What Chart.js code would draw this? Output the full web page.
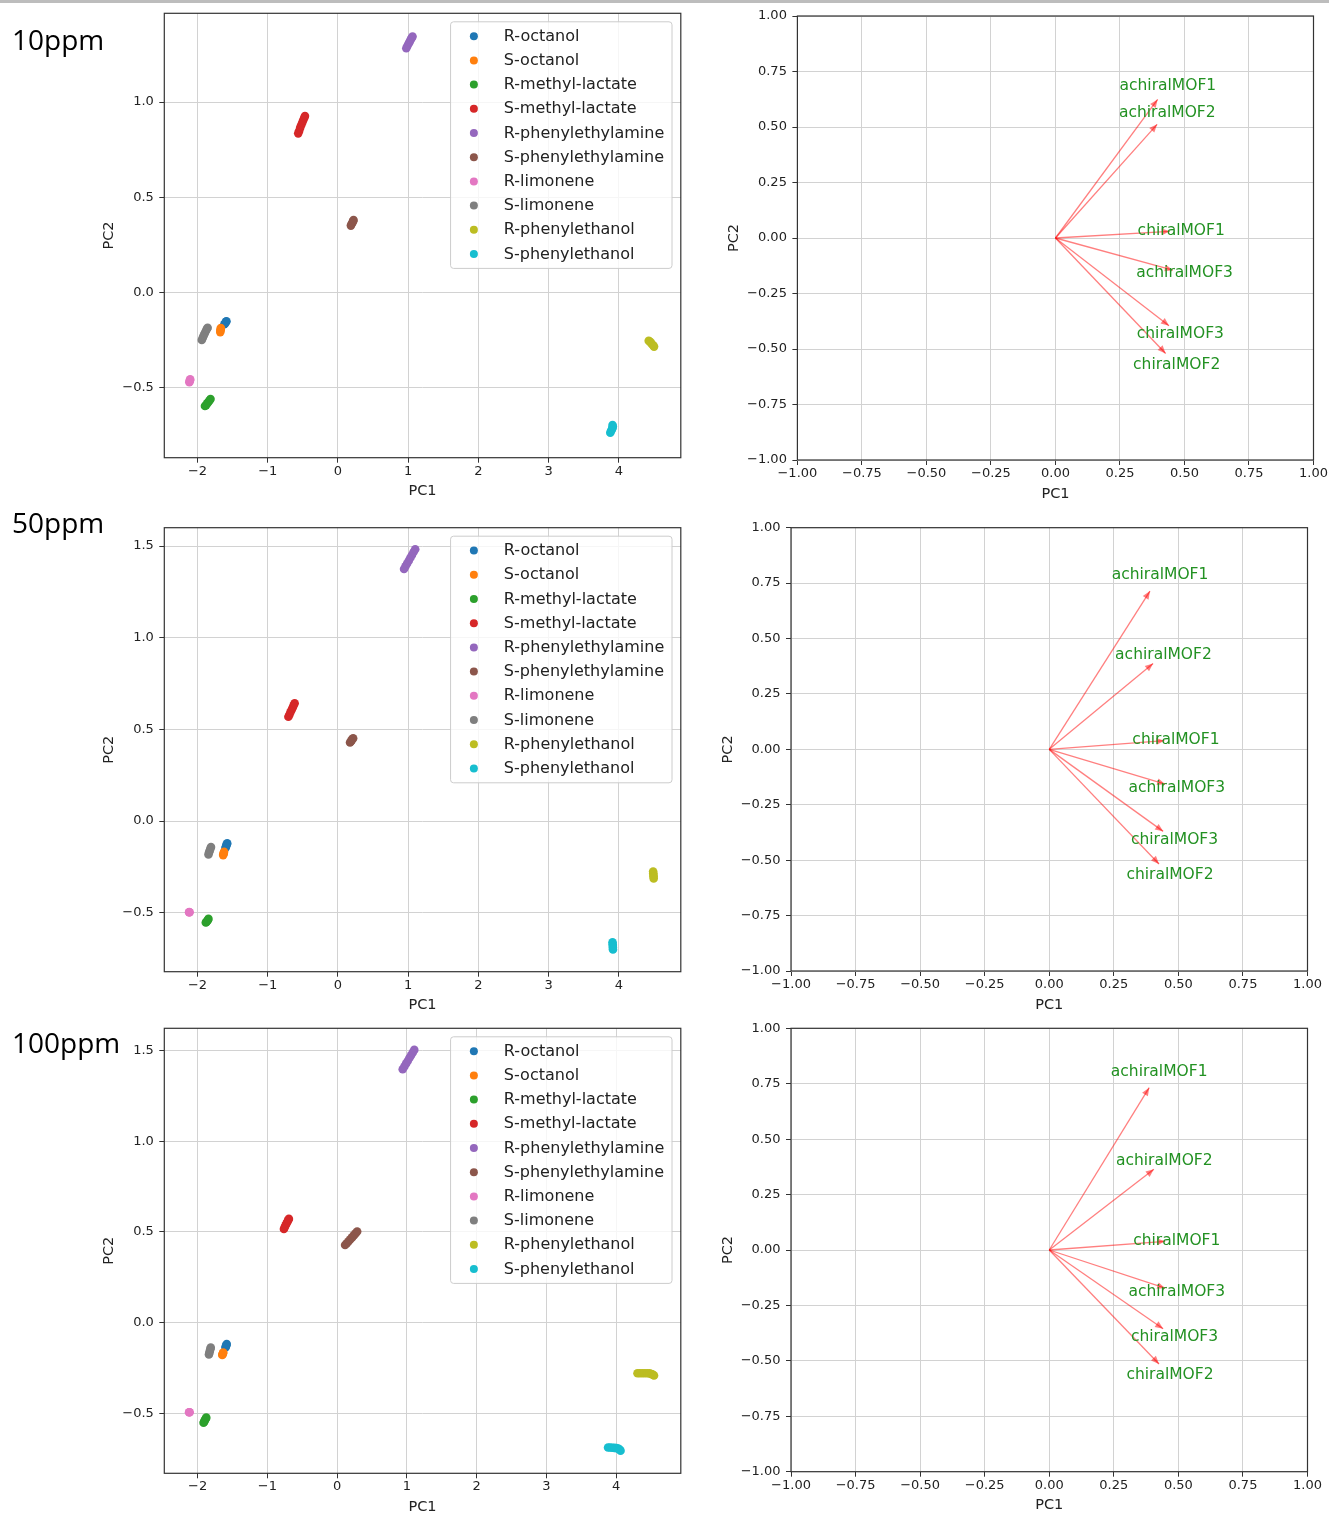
<!DOCTYPE html>
<html>
<head>
<meta charset="utf-8">
<script src="https://cdn.jsdelivr.net/npm/chart.js@4.4.0/dist/chart.umd.min.js"></script>
<style>
  html, body { margin:0; padding:0; background:#fff; }
  body { width:1329px; height:1515px; position:relative; overflow:hidden; }
  .topbar { position:absolute; left:0; top:0; width:1329px; height:3px; background:#bdbdbd; }
  .ppm { position:absolute; left:12px; font-family:"Open Sans", sans-serif; font-size:28px; line-height:28px; color:#000; white-space:nowrap; }
  canvas { position:absolute; }
</style>
</head>
<body>
<div class="topbar"></div>
<script>
// ---------------- DATA ----------------
const substances = ['R-octanol','S-octanol','R-methyl-lactate','S-methyl-lactate','R-phenylethylamine',
  'S-phenylethylamine','R-limonene','S-limonene','R-phenylethanol','S-phenylethanol'];
const concentrations = ['10ppm','50ppm','100ppm'];

// PCA scores (PC1, PC2) for every substance, 10 ppm
const scores10ppm = [
  [[-1.618,-0.166],[-1.606,-0.160],[-1.595,-0.153],[-1.588,-0.150]],
  [[-1.676,-0.207],[-1.673,-0.199],[-1.670,-0.192],[-1.668,-0.186]],
  [[-1.894,-0.595],[-1.878,-0.590],[-1.862,-0.581],[-1.846,-0.574],[-1.830,-0.566],[-1.815,-0.558]],
  [[-0.566,0.836],[-0.552,0.850],[-0.538,0.866],[-0.523,0.880],[-0.508,0.893],[-0.494,0.906],[-0.480,0.918],[-0.470,0.927]],
  [[0.973,1.283],[0.988,1.294],[1.005,1.306],[1.020,1.316],[1.036,1.328],[1.050,1.337],[1.062,1.344]],
  [[0.184,0.352],[0.195,0.360],[0.206,0.368],[0.215,0.375],[0.222,0.381]],
  [[-2.116,-0.470],[-2.112,-0.465],[-2.108,-0.459],[-2.104,-0.455]],
  [[-1.939,-0.248],[-1.925,-0.236],[-1.910,-0.224],[-1.895,-0.212],[-1.880,-0.200],[-1.866,-0.190],[-1.856,-0.184]],
  [[4.425,-0.252],[4.440,-0.256],[4.455,-0.262],[4.470,-0.269],[4.487,-0.276],[4.501,-0.283]],
  [[3.878,-0.735],[3.888,-0.726],[3.900,-0.718],[3.910,-0.710],[3.914,-0.702],[3.910,-0.695]]
];
// 50 ppm
const scores50ppm = [
  [[-1.602,-0.147],[-1.596,-0.140],[-1.589,-0.133],[-1.583,-0.127],[-1.577,-0.121]],
  [[-1.635,-0.186],[-1.630,-0.180],[-1.626,-0.174],[-1.622,-0.168]],
  [[-1.882,-0.554],[-1.872,-0.550],[-1.862,-0.545],[-1.852,-0.540],[-1.844,-0.534]],
  [[-0.706,0.569],[-0.692,0.580],[-0.677,0.593],[-0.661,0.606],[-0.646,0.618],[-0.631,0.631],[-0.617,0.642]],
  [[0.941,1.375],[0.962,1.390],[0.985,1.405],[1.008,1.420],[1.031,1.436],[1.054,1.451],[1.077,1.467],[1.100,1.482]],
  [[0.172,0.428],[0.183,0.434],[0.194,0.440],[0.205,0.446],[0.216,0.451]],
  [[-2.121,-0.498],[-2.117,-0.497],[-2.113,-0.498]],
  [[-1.844,-0.183],[-1.836,-0.172],[-1.827,-0.162],[-1.817,-0.151],[-1.808,-0.142]],
  [[4.488,-0.276],[4.490,-0.285],[4.492,-0.294],[4.494,-0.303],[4.496,-0.313]],
  [[3.910,-0.662],[3.912,-0.672],[3.914,-0.682],[3.915,-0.692],[3.916,-0.701]]
];
// 100 ppm
const scores100ppm = [
  [[-1.600,-0.137],[-1.594,-0.131],[-1.588,-0.125],[-1.582,-0.118]],
  [[-1.646,-0.179],[-1.641,-0.174],[-1.636,-0.169],[-1.632,-0.165]],
  [[-1.914,-0.552],[-1.905,-0.546],[-1.895,-0.539],[-1.885,-0.531],[-1.875,-0.524]],
  [[-0.762,0.516],[-0.750,0.527],[-0.738,0.537],[-0.726,0.546],[-0.714,0.555],[-0.702,0.564],[-0.691,0.572]],
  [[0.941,1.397],[0.965,1.412],[0.989,1.428],[1.013,1.443],[1.037,1.459],[1.061,1.474],[1.085,1.490],[1.107,1.504]],
  [[0.115,0.428],[0.140,0.438],[0.165,0.449],[0.190,0.460],[0.215,0.470],[0.240,0.481],[0.265,0.492],[0.288,0.502]],
  [[-2.122,-0.494],[-2.118,-0.494],[-2.114,-0.494]],
  [[-1.837,-0.176],[-1.831,-0.166],[-1.824,-0.157],[-1.818,-0.147],[-1.811,-0.138]],
  [[4.307,-0.279],[4.340,-0.279],[4.375,-0.279],[4.410,-0.279],[4.445,-0.279],[4.480,-0.280],[4.510,-0.284],[4.530,-0.288],[4.544,-0.292]],
  [[3.885,-0.689],[3.915,-0.689],[3.945,-0.690],[3.975,-0.691],[4.005,-0.692],[4.032,-0.694],[4.050,-0.700],[4.064,-0.706]]
];

// Loadings (arrow tips) of the sensors
const mofNames = ['achiralMOF1','achiralMOF2','chiralMOF1','achiralMOF3','chiralMOF3','chiralMOF2'];
const loadPC1_10ppm  = [0.396, 0.394, 0.443, 0.455, 0.440, 0.427];
const loadPC2_10ppm  = [0.624, 0.512, 0.030, -0.145, -0.395, -0.520];
const loadPC1_50ppm  = [0.390, 0.402, 0.446, 0.449, 0.441, 0.425];
const loadPC2_50ppm  = [0.714, 0.387, 0.039, -0.157, -0.370, -0.517];
const loadPC1_100ppm = [0.387, 0.405, 0.449, 0.449, 0.441, 0.425];
const loadPC2_100ppm = [0.732, 0.364, 0.039, -0.172, -0.355, -0.514];

// Tick values
const scoreXTicks = [-2, -1, 0, 1, 2, 3, 4];
const scoreYTicks10ppm = [-0.5, 0.0, 0.5, 1.0];
const scoreYTicks = [-0.5, 0.0, 0.5, 1.0, 1.5];
const loadTicks = [-1.00, -0.75, -0.50, -0.25, 0.00, 0.25, 0.50, 0.75, 1.00];

// ---------------- STYLE / LAYOUT ----------------
const FONT = '"DejaVu Sans", sans-serif';
Chart.defaults.font.family = FONT;
const tab10 = ['#1f77b4','#ff7f0e','#2ca02c','#d62728','#9467bd','#8c564b','#e377c2','#7f7f7f','#bcbd22','#17becf'];
const TICK_SIZE = 13, TITLE_SIZE = 14.5, LEGEND_SIZE = 16, MOF_LABEL_SIZE = 15.5;
const TITLE_LH = TITLE_SIZE * 1.2;

const scoreSets = [scores10ppm, scores50ppm, scores100ppm];
const scoreYTickSets = [scoreYTicks10ppm, scoreYTicks, scoreYTicks];
const loadSets = [[loadPC1_10ppm, loadPC2_10ppm],[loadPC1_50ppm, loadPC2_50ppm],[loadPC1_100ppm, loadPC2_100ppm]];
const scoreLimits = [
  {xmin:-2.473, xmax:4.882, ymin:-0.866, ymax:1.466},
  {xmin:-2.473, xmax:4.882, ymin:-0.822, ymax:1.600},
  {xmin:-2.477, xmax:4.928, ymin:-0.831, ymax:1.623}
];
const leftBoxes = [
  {l:164.3, r:680.8, t:13.3,   b:457.7,  yTitle:109},
  {l:164.3, r:680.8, t:527.7,  b:971.7,  yTitle:109},
  {l:164.3, r:680.8, t:1028.3, b:1473.3, yTitle:109}
];
const rightBoxes = [
  {l:797.4, r:1313.5, t:16,     b:460,    yTitle:734},
  {l:791,   r:1307.5, t:527.7,  b:971,    yTitle:728},
  {l:791,   r:1307.5, t:1028.3, b:1471.7, yTitle:728}
];
const ppmBaselines = [50, 533, 1053];

function fmt(v, d) {
  if (Math.abs(v) < 1e-9) v = 0;
  return v.toFixed(d).replace('-', '\u2212');
}

const framePlugin = {
  id: 'frame',
  afterDatasetsDraw(chart) {
    const {ctx, chartArea: a} = chart;
    ctx.save();
    ctx.strokeStyle = '#333';
    ctx.lineWidth = 1.2;
    ctx.strokeRect(a.left, a.top, a.right - a.left, a.bottom - a.top);
    ctx.restore();
  }
};

const legendPlugin = {
  id: 'mplLegend',
  afterDraw(chart, args, opts) {
    if (!opts.show) return;
    const ctx = chart.ctx, a = chart.chartArea;
    const items = chart.data.datasets;
    ctx.save();
    ctx.font = LEGEND_SIZE + 'px ' + FONT;
    let maxW = 0;
    items.forEach(d => { maxW = Math.max(maxW, ctx.measureText(d.label).width); });
    const rowH = 24.2, padY = 2.3;
    const w = 53.3 + maxW + 7.7, h = padY * 2 + rowH * items.length;
    const x0 = a.right - 8.8 - w, y0 = a.top + 8.5, r = 3;
    ctx.beginPath();
    ctx.moveTo(x0 + r, y0);
    ctx.lineTo(x0 + w - r, y0); ctx.arcTo(x0 + w, y0, x0 + w, y0 + r, r);
    ctx.lineTo(x0 + w, y0 + h - r); ctx.arcTo(x0 + w, y0 + h, x0 + w - r, y0 + h, r);
    ctx.lineTo(x0 + r, y0 + h); ctx.arcTo(x0, y0 + h, x0, y0 + h - r, r);
    ctx.lineTo(x0, y0 + r); ctx.arcTo(x0, y0, x0 + r, y0, r);
    ctx.closePath();
    ctx.fillStyle = 'rgba(255,255,255,0.8)';
    ctx.fill();
    ctx.strokeStyle = '#cccccc';
    ctx.lineWidth = 1;
    ctx.stroke();
    ctx.textAlign = 'left';
    ctx.textBaseline = 'middle';
    items.forEach((d, i) => {
      const cy = y0 + padY + rowH * (i + 0.5);
      ctx.fillStyle = d.backgroundColor;
      ctx.beginPath(); ctx.arc(x0 + 23.3, cy, 4, 0, Math.PI * 2); ctx.fill();
      ctx.fillStyle = '#222';
      ctx.fillText(d.label, x0 + 53.3, cy + 0.5);
    });
    ctx.restore();
  }
};

const arrowPlugin = {
  id: 'arrows',
  afterDatasetsDraw(chart, args, opts) {
    if (!opts.show) return;
    const {ctx, scales: {x, y}} = chart;
    ctx.save();
    chart.data.datasets.forEach(ds => {
      const p0 = ds.data[0], p1 = ds.data[1];
      const x0 = x.getPixelForValue(p0.x), y0 = y.getPixelForValue(p0.y);
      const x1 = x.getPixelForValue(p1.x), y1 = y.getPixelForValue(p1.y);
      const ang = Math.atan2(y1 - y0, x1 - x0);
      const L = 8, W = 3.4;
      const bx = x1 - L * Math.cos(ang), by = y1 - L * Math.sin(ang);
      ctx.fillStyle = ds.borderColor;
      ctx.beginPath();
      ctx.moveTo(x1, y1);
      ctx.lineTo(bx + W * Math.sin(ang), by - W * Math.cos(ang));
      ctx.lineTo(bx - W * Math.sin(ang), by + W * Math.cos(ang));
      ctx.closePath();
      ctx.fill();
    });
    ctx.font = MOF_LABEL_SIZE + 'px ' + FONT;
    ctx.fillStyle = opts.textColor;
    ctx.textAlign = 'center';
    ctx.textBaseline = 'middle';
    chart.data.datasets.forEach(ds => {
      const p1 = ds.data[1];
      ctx.fillText(ds.label, x.getPixelForValue(p1.x * opts.labelScale), y.getPixelForValue(p1.y * opts.labelScale));
    });
    ctx.restore();
  }
};

function makeCanvas(box) {
  const PAD_T = 16, PAD_R = 22;
  const xTitleY = box.b + 34;
  const cl = Math.floor(box.yTitle - TITLE_LH / 2);
  const ct = Math.floor(box.t - PAD_T);
  const W = Math.ceil(box.r + PAD_R - cl);
  const H = Math.ceil(xTitleY + TITLE_LH / 2 - ct);
  const c = document.createElement('canvas');
  c.width = W; c.height = H;
  c.style.left = cl + 'px'; c.style.top = ct + 'px';
  c.style.width = W + 'px'; c.style.height = H + 'px';
  document.body.appendChild(c);
  return {
    canvas: c,
    padT: box.t - ct,
    padR: cl + W - box.r,
    yW: box.l - cl,
    yTitlePad: (box.yTitle - TITLE_LH / 2) - cl,
    xH: ct + H - box.b,
    xTitlePad: (ct + H) - (xTitleY + TITLE_LH / 2)
  };
}

function axes(g, lim, xTicks, yTicks, xDec, yDec) {
  const grid = {color:'#d2d2d2', lineWidth:1, drawTicks:true, tickLength:5, tickColor:'#333', tickWidth:1};
  const tickFont = {size:TICK_SIZE, family:FONT};
  return {
    x: {
      type:'linear', position:'bottom', min:lim.xmin, max:lim.xmax, bounds:'data',
      ticks:{autoSkip:false, maxRotation:0, minRotation:0,
        font:tickFont, color:'#222', padding:1, callback:v => fmt(v, xDec)},
      afterBuildTicks(s) { s.ticks = xTicks.map(v => ({value:v})); },
      grid:grid, border:{display:false},
      title:{display:true, text:'PC1', color:'#222', font:{size:TITLE_SIZE, family:FONT}, padding:{top:0, bottom:g.xTitlePad}},
      afterFit(s) { s.height = g.xH; }
    },
    y: {
      type:'linear', position:'left', min:lim.ymin, max:lim.ymax, bounds:'data',
      ticks:{autoSkip:false,
        font:tickFont, color:'#222', padding:5.5, callback:v => fmt(v, yDec)},
      afterBuildTicks(s) { s.ticks = yTicks.map(v => ({value:v})); },
      grid:grid, border:{display:false},
      title:{display:true, text:'PC2', color:'#222', font:{size:TITLE_SIZE, family:FONT}, padding:{top:g.yTitlePad, bottom:0}},
      afterFit(s) { s.width = g.yW; }
    }
  };
}

concentrations.forEach((conc, row) => {
  // ---- scores scatter ----
  const g = makeCanvas(leftBoxes[row]);
  const scores = scoreSets[row];
  new Chart(g.canvas, {
    type:'scatter',
    data:{
      datasets: substances.map((name, i) => ({
        label:name,
        data: scores[i].map(p => ({x:p[0], y:p[1]})),
        backgroundColor: tab10[i], pointBackgroundColor: tab10[i],
        borderWidth:0, pointBorderWidth:0, pointRadius:4.3, pointHoverRadius:4.3,
        order: substances.length - i
      }))
    },
    options:{
      responsive:false, animation:false, events:[],
      layout:{padding:{left:0, top:g.padT, right:g.padR, bottom:0}},
      plugins:{legend:{display:false}, tooltip:{enabled:false}, mplLegend:{show:true}},
      scales: axes(g, scoreLimits[row], scoreXTicks, scoreYTickSets[row], 0, 1)
    },
    plugins:[framePlugin, legendPlugin]
  });

  // ---- loadings biplot ----
  const g2 = makeCanvas(rightBoxes[row]);
  const [pc1, pc2] = loadSets[row];
  new Chart(g2.canvas, {
    type:'scatter',
    data:{
      datasets: mofNames.map((name, i) => ({
        label:name,
        data:[{x:0, y:0}, {x:pc1[i], y:pc2[i]}],
        showLine:true, borderColor:'rgba(255,0,0,0.5)', backgroundColor:'rgba(255,0,0,0.5)',
        borderWidth:1.3, pointRadius:0, pointHoverRadius:0, fill:false
      }))
    },
    options:{
      responsive:false, animation:false, events:[],
      layout:{padding:{left:0, top:g2.padT, right:g2.padR, bottom:0}},
      plugins:{legend:{display:false}, tooltip:{enabled:false},
        arrows:{show:true, textColor:'rgb(34,145,34)', labelScale:1.1}},
      scales: axes(g2, {xmin:-1, xmax:1, ymin:-1, ymax:1}, loadTicks, loadTicks, 2, 2)
    },
    plugins:[framePlugin, arrowPlugin]
  });

  // ---- concentration label ----
  const d = document.createElement('div');
  d.className = 'ppm';
  d.textContent = conc;
  d.style.top = (ppmBaselines[row] - 25) + 'px';
  document.body.appendChild(d);
});
</script>
</body>
</html>
